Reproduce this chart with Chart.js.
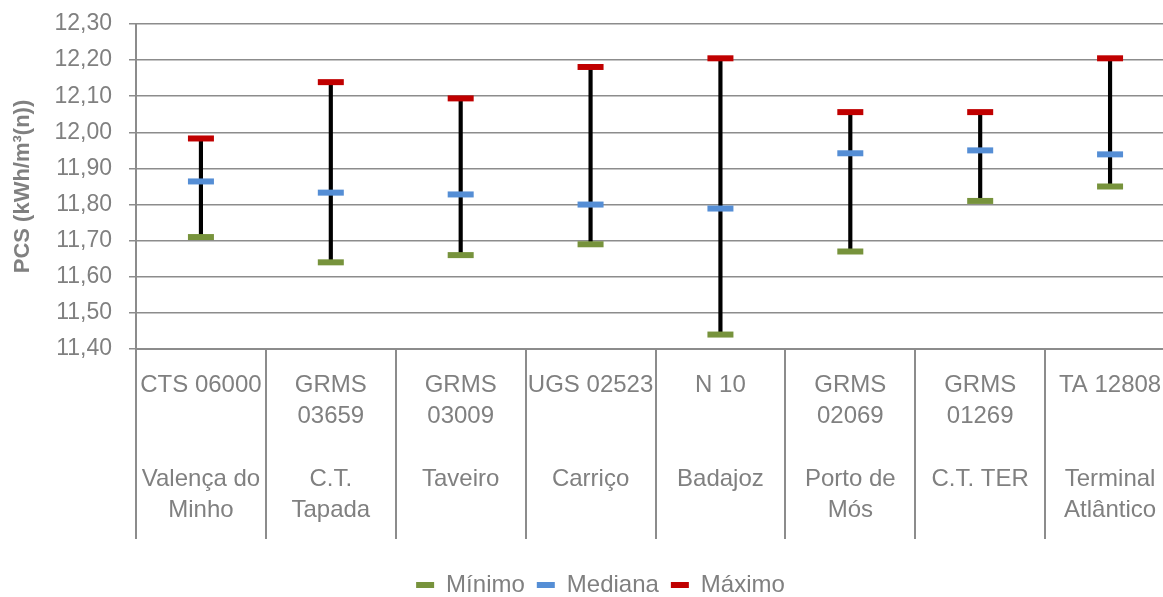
<!DOCTYPE html>
<html lang="pt">
<head>
<meta charset="utf-8">
<title>PCS por ponto de entrada</title>
<script src="https://cdn.jsdelivr.net/npm/chart.js@4/dist/chart.umd.min.js"></script>
<style>
  html, body { margin: 0; padding: 0; background: #ffffff; overflow: hidden; }
  #wrap { position: relative; width: 1200px; height: 607px; }
</style>
</head>
<body>
<div id="wrap"><canvas id="pcs"></canvas></div>
<script>
// Pontos de medição: código (linhas) e local (linhas)
const codeLines = [
  ["CTS 06000"], ["GRMS", "03659"], ["GRMS", "03009"], ["UGS 02523"],
  ["N 10"], ["GRMS", "02069"], ["GRMS", "01269"], ["TA 12808"]
];
const locationLines = [
  ["Valença do", "Minho"], ["C.T.", "Tapada"], ["Taveiro"], ["Carriço"],
  ["Badajoz"], ["Porto de", "Mós"], ["C.T. TER"], ["Terminal", "Atlântico"]
];

// PCS (kWh/m³(n))
const minimo  = [11.71, 11.64, 11.66, 11.69, 11.44, 11.67, 11.81, 11.85];
const mediana = [11.864, 11.833, 11.828, 11.80, 11.789, 11.942, 11.95, 11.939];
const maximo  = [11.983, 12.139, 12.094, 12.181, 12.205, 12.056, 12.056, 12.205];

// Escala do eixo Y
const yMin = 11.40;
const yMax = 12.30;
const yStep = 0.10;

const GREY = '#808080';
const GRID = '#8c8c8c';
const FONT = '"Liberation Sans", Arial, sans-serif';

// Cada rótulo: código em cima, local em baixo (5 linhas fixas)
const labels = codeLines.map((c, i) => {
  const lines = c.slice();
  while (lines.length < 3) lines.push('');
  return lines.concat(locationLines[i]);
});

const range = minimo.map((v, i) => [v, maximo[i]]);

const marker = (label, data, color) => ({
  type: 'line',
  label,
  data,
  showLine: false,
  pointStyle: 'line',
  pointRadius: 13,
  pointHoverRadius: 13,
  pointBorderWidth: 6,
  pointHoverBorderWidth: 6,
  pointBorderColor: color,
  pointBackgroundColor: color,
  borderColor: color,
  backgroundColor: color,
  order: 1
});

new Chart(document.getElementById('pcs'), {
  type: 'bar',
  data: {
    labels,
    datasets: [
      {
        type: 'bar',
        label: 'Amplitude',
        data: range,
        backgroundColor: '#000000',
        borderWidth: 0,
        barThickness: 3.5,
        order: 10
      },
      marker('Mínimo', minimo, '#77933c'),
      marker('Mediana', mediana, '#558ed5'),
      marker('Máximo', maximo, '#c00000')
    ]
  },
  options: {
    responsive: true,
    maintainAspectRatio: false,
    animation: false,
    events: [],
    layout: { padding: { top: 24, right: 25, left: 26, bottom: 0 } },
    plugins: {
      tooltip: { enabled: false },
      legend: {
        position: 'bottom',
        labels: {
          filter: (item) => item.text !== 'Amplitude',
          usePointStyle: true,
          pointStyleWidth: 18,
          padding: 12,
          color: GREY,
          font: { family: FONT, size: 24 }
        }
      }
    },
    scales: {
      x: {
        offset: true,
        grid: {
          offset: true,
          drawOnChartArea: false,
          drawTicks: true,
          tickLength: 190,
          color: GRID,
          lineWidth: 2
        },
        border: { display: true, color: GRID, width: 2 },
        ticks: {
          color: GREY,
          padding: -169,
          maxRotation: 0,
          autoSkip: false,
          font: { family: FONT, size: 24, lineHeight: 1.3 }
        },
        afterFit: (scale) => { scale.height = 212; }
      },
      y: {
        min: yMin,
        max: yMax,
        grid: {
          color: GRID,
          lineWidth: 1.5,
          drawTicks: true,
          tickLength: 7
        },
        border: { display: true, color: GRID, width: 2 },
        ticks: {
          stepSize: yStep,
          color: GREY,
          padding: 17,
          font: { family: FONT, size: 23 },
          callback: (v) => Number(v).toFixed(2).replace('.', ',')
        },
        title: {
          display: true,
          text: 'PCS (kWh/m³(n))',
          color: GREY,
          padding: { top: -16, bottom: 0 },
          font: { family: FONT, size: 22, weight: 'bold' }
        },
        afterFit: (scale) => {
          scale.width = 110;
          scale.paddingTop = 14;
          scale.paddingBottom = 14;
        }
      }
    }
  }
});
</script>
</body>
</html>
